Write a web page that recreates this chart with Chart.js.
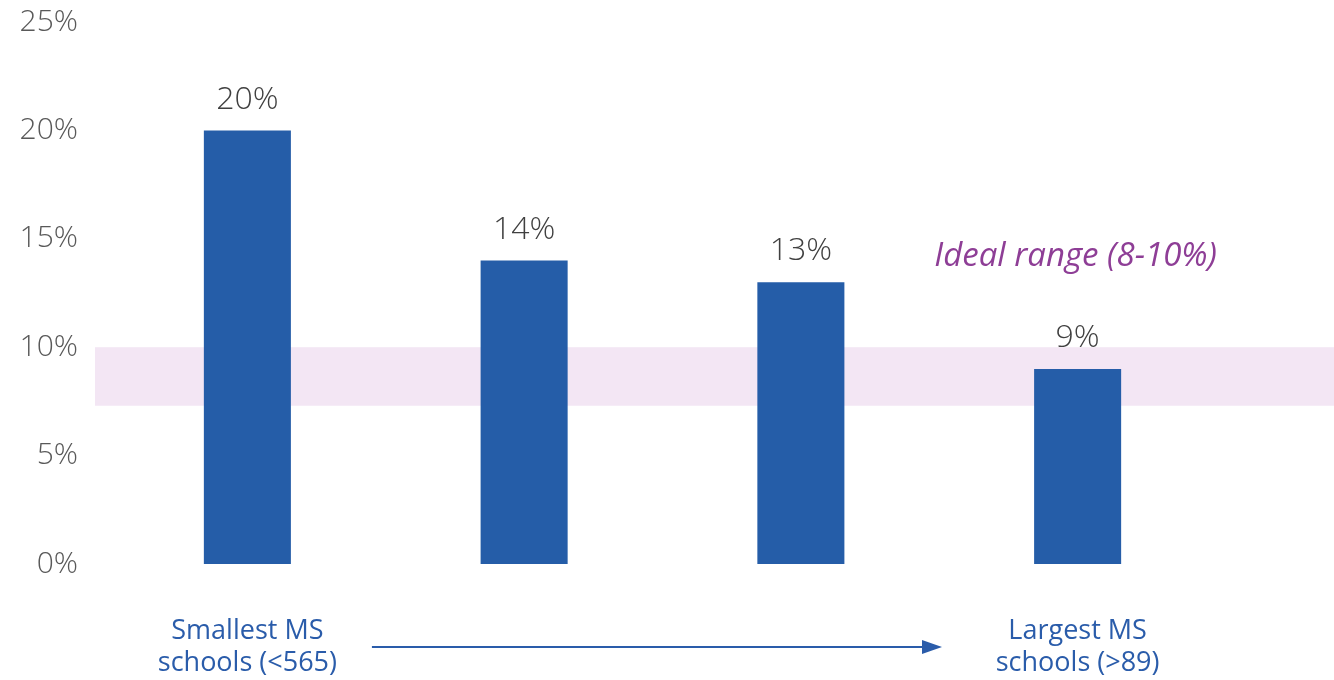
<!DOCTYPE html>
<html>
<head>
<meta charset="utf-8">
<script src="https://cdn.jsdelivr.net/npm/chart.js@4/dist/chart.umd.min.js"></script>
<style>
html,body{margin:0;padding:0;background:#fff;}
#wrap{width:1334px;height:680px;position:relative;}
</style>
</head>
<body>
<div id="wrap"><canvas id="c" width="1334" height="680"></canvas></div>
<script>
const categories = [["Smallest MS","schools (<565)"], "", "", ["Largest MS","schools (>89)"]];
const values = [20, 14, 13, 9];
const yTicks = [0, 5, 10, 15, 20, 25];
const idealRange = [7.3, 10];
const idealLabel = "Ideal range (8-10%)";

const FONT = "'Open Sans', Lato, sans-serif";

const extras = {
  id: 'extras',
  beforeDatasetsDraw(chart) {
    const ctx = chart.ctx, y = chart.scales.y, area = chart.chartArea;
    ctx.save();
    ctx.fillStyle = '#F3E6F4';
    const top = y.getPixelForValue(idealRange[1]);
    const bot = y.getPixelForValue(idealRange[0]);
    ctx.fillRect(area.left - 14, top, chart.width - (area.left - 14), bot - top);
    ctx.restore();
  },
  afterDatasetsDraw(chart) {
    const ctx = chart.ctx, x = chart.scales.x, y = chart.scales.y;
    ctx.save();
    ctx.font = "300 32px " + FONT;
    ctx.fillStyle = '#404040';
    ctx.textAlign = 'center';
    ctx.textBaseline = 'middle';
    chart.getDatasetMeta(0).data.forEach((bar, i) => {
      ctx.fillText(values[i] + '%', bar.x, bar.y - 31);
    });
    ctx.font = "italic 400 33px " + FONT;
    ctx.fillStyle = '#8E3E96';
    ctx.fillText(idealLabel, x.getPixelForValue(3) - 2, y.getPixelForValue(14.2));
    const ay = 647;
    const x0 = x.getPixelForValue(0.45), x1 = x.getPixelForValue(2.51);
    ctx.strokeStyle = '#2A5CAA';
    ctx.fillStyle = '#2A5CAA';
    ctx.lineWidth = 2;
    ctx.beginPath();
    ctx.moveTo(x0, ay);
    ctx.lineTo(x1 - 14, ay);
    ctx.stroke();
    ctx.beginPath();
    ctx.moveTo(x1, ay);
    ctx.lineTo(x1 - 20, ay - 7);
    ctx.lineTo(x1 - 20, ay + 7);
    ctx.closePath();
    ctx.fill();
    ctx.restore();
  }
};

new Chart(document.getElementById('c'), {
  type: 'bar',
  data: {
    labels: categories,
    datasets: [{
      data: values,
      backgroundColor: '#255DA8',
      borderWidth: 0,
      barPercentage: 1,
      categoryPercentage: 0.3145
    }]
  },
  options: {
    responsive: false,
    animation: false,
    events: [],
    layout: { padding: { top: 22, right: 118, bottom: 0, left: 0 } },
    plugins: { legend: { display: false }, tooltip: { enabled: false } },
    scales: {
      x: {
        grid: { display: false, drawTicks: false },
        border: { display: false },
        ticks: {
          color: '#2A5CAA',
          font: { family: FONT, size: 27, lineHeight: 1.2 },
          padding: 51,
          maxRotation: 0,
          autoSkip: false
        },
        afterFit(s) { s.height = 116; s.paddingLeft = 0; s.paddingRight = 0; }
      },
      y: {
        min: 0, max: 25,
        afterBuildTicks(s) { s.ticks = yTicks.map(v => ({ value: v })); },
        grid: { display: false, drawTicks: false },
        border: { display: false },
        ticks: {
          color: '#595959',
          font: { family: FONT, size: 30, weight: 300 },
          padding: 31,
          callback: v => v + '%'
        },
        afterFit(s) { s.width = 109; s.paddingTop = 0; s.paddingBottom = 0; }
      }
    }
  },
  plugins: [extras]
});
</script>
</body>
</html>
